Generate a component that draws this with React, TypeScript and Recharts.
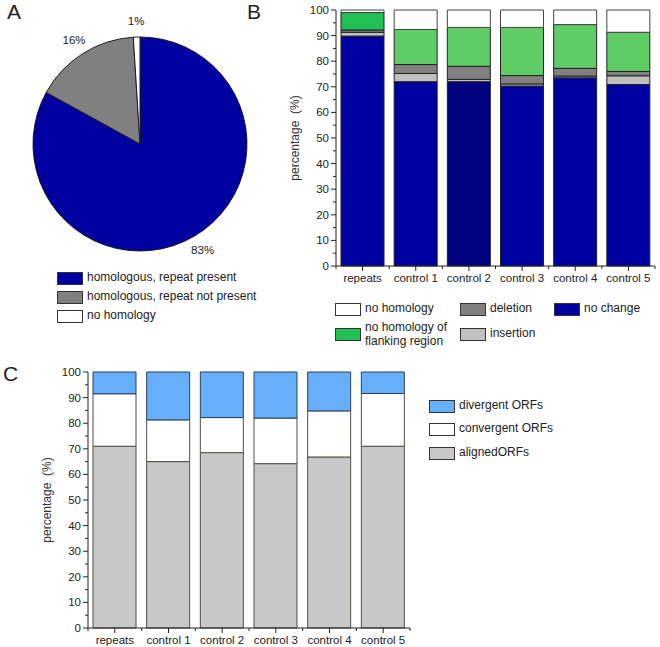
import React from "react";
import { PieChart, Pie, Cell, BarChart, Bar, XAxis, YAxis } from "recharts";

// panel A
const pieLabels = ["homologous, repeat present", "homologous, repeat not present", "no homology"];
const pieValues = [83, 16, 1];
const pieColors = ["#0000a0", "#808080", "#ffffff"];

// panel B
const categories = ["repeats", "control 1", "control 2", "control 3", "control 4", "control 5"];
const noChange = [89.8, 72.0, 72.0, 70.3, 73.5, 70.9];
const insertion = [1.5, 3.2, 0.9, 0.8, 0.7, 3.4];
const deletion = [0.9, 3.5, 5.1, 3.3, 3.0, 1.7];
const flanking = [6.8, 13.7, 15.2, 18.8, 17.1, 15.3];
const noHomology = [1.0, 7.6, 6.8, 6.8, 5.7, 8.7];
const noChangeColors = ["#0000a0", "#0000a0", "#000080", "#0000a0", "#0000a0", "#0000a0"];
const flankingColors = ["#20c055", "#5ecd66", "#5ecd66", "#5ecd66", "#5ecd66", "#5ecd66"];

// panel C
const aligned = [71.0, 65.0, 68.5, 64.2, 66.8, 71.0];
const convergent = [20.5, 16.3, 13.7, 17.8, 18.0, 20.6];
const divergent = [8.5, 18.7, 17.8, 18.0, 15.2, 8.4];

const yTicks = [0, 5, 10, 15, 20, 25, 30, 35, 40, 45, 50, 55, 60, 65, 70, 75, 80, 85, 90, 95, 100];

const FONT = "'Liberation Sans', Arial, sans-serif";
const INK = "#222";

const dataB = categories.map((name, i) => ({
    name,
    noChange: noChange[i],
    insertion: insertion[i],
    deletion: deletion[i],
    flanking: flanking[i],
    noHomology: noHomology[i],
}));

const dataC = categories.map((name, i) => ({
    name,
    aligned: aligned[i],
    convergent: convergent[i],
    divergent: divergent[i],
}));

const pieData = pieLabels.map((name, i) => ({ name, value: pieValues[i] }));

const YTick = (props: any) => {
    const { x, y, payload } = props;
    const major = payload.value % 10 === 0;
    return (
        <g>
            <line x1={x} x2={x - (major ? 5 : 3)} y1={y} y2={y} stroke={INK} />
            {major && (
                <text x={x - 7} y={y + 4} textAnchor="end" fontSize={11.5} fill={INK} fontFamily={FONT}>
                    {payload.value}
                </text>
            )}
        </g>
    );
};

const makeXTick = (band: number) => (props: any) => {
    const { x, y, payload, index } = props;
    return (
        <g>
            <line x1={x} x2={x} y1={y} y2={y + 5} stroke={INK} />
            <line x1={x - band / 2} x2={x - band / 2} y1={y} y2={y + 3} stroke={INK} />
            {index === categories.length - 1 && (
                <line x1={x + band / 2} x2={x + band / 2} y1={y} y2={y + 3} stroke={INK} />
            )}
            <text x={x} y={y + 15.5} textAnchor="middle" fontSize={11.5} fill={INK} fontFamily={FONT}>
                {payload.value}
            </text>
        </g>
    );
};

const makeYLabel = (dx: number) => (props: any) => {
    const { x, y, height } = props.viewBox;
    const lx = x + dx;
    const ly = y + height / 2;
    return (
        <text
            x={lx}
            y={ly}
            transform={`rotate(-90, ${lx}, ${ly})`}
            textAnchor="middle"
            dominantBaseline="central"
            fontSize={12}
            fill="#333"
            fontFamily={FONT}
        >
            {"percentage\u00a0 (%)"}
        </text>
    );
};

const RADIAN = Math.PI / 180;
const pieLabel = (props: any) => {
    const { cx, cy, midAngle, outerRadius, value } = props;
    const r = outerRadius + 16;
    const x = cx + r * Math.cos(-midAngle * RADIAN);
    const y = cy + r * Math.sin(-midAngle * RADIAN);
    return (
        <text x={x} y={y} textAnchor="middle" dominantBaseline="central" fontSize={11.5} fill={INK} fontFamily={FONT}>
            {`${value}%`}
        </text>
    );
};

const Swatch = ({ left, top, color, label, lines }: any) => (
    <div style={{ position: "absolute", left, top }}>
        <div
            style={{
                position: "absolute",
                left: 0,
                top: 0,
                width: 24,
                height: 11,
                background: color,
                border: "1px solid #333",
            }}
        />
        <div
            style={{
                position: "absolute",
                left: 30,
                top: lines === 2 ? -8 : -2,
                fontSize: 12,
                lineHeight: "14px",
                whiteSpace: "nowrap",
                color: INK,
                fontFamily: FONT,
            }}
        >
            {label}
        </div>
    </div>
);

const PanelLetter = ({ left, top, children }: any) => (
    <div style={{ position: "absolute", left, top, fontSize: 21, color: INK, fontFamily: FONT, lineHeight: "21px" }}>
        {children}
    </div>
);

export default function App() {
    const bandB = 319 / 6;
    const bandC = 322 / 6;
    return (
        <div
            style={{
                position: "absolute",
                left: 0,
                top: 0,
                width: 660,
                height: 647,
                background: "#fff",
                overflow: "hidden",
                fontFamily: FONT,
            }}
        >
            <PanelLetter left={7} top={1}>A</PanelLetter>
            <PanelLetter left={247} top={1}>B</PanelLetter>
            <PanelLetter left={3} top={363}>C</PanelLetter>

            {/* A: pie */}
            <div style={{ position: "absolute", left: 0, top: 0 }}>
                <PieChart width={270} height={262}>
                    <Pie
                        data={pieData}
                        dataKey="value"
                        cx={135}
                        cy={139}
                        outerRadius={107}
                        startAngle={90}
                        endAngle={-270}
                        stroke="#1a1a1a"
                        strokeWidth={1}
                        label={pieLabel}
                        labelLine={false}
                        isAnimationActive={false}
                    >
                        {pieData.map((d, i) => (
                            <Cell key={d.name} fill={pieColors[i]} />
                        ))}
                    </Pie>
                </PieChart>
            </div>
            <Swatch left={57} top={272} color={pieColors[0]} label={pieLabels[0]} />
            <Swatch left={57} top={291} color={pieColors[1]} label={pieLabels[1]} />
            <Swatch left={57} top={310} color={pieColors[2]} label={pieLabels[2]} />

            {/* B: stacked bars */}
            <div style={{ position: "absolute", left: 280, top: 0 }}>
                <BarChart
                    width={380}
                    height={290}
                    data={dataB}
                    margin={{ top: 10, right: 5, bottom: 0, left: 0 }}
                    barSize={43}
                >
                    <XAxis
                        dataKey="name"
                        height={24}
                        tickSize={0}
                        tickMargin={0}
                        tick={makeXTick(bandB)}
                        axisLine={{ stroke: INK }}
                        interval={0}
                    />
                    <YAxis
                        width={56}
                        domain={[0, 100]}
                        ticks={yTicks}
                        interval={0}
                        tickSize={0}
                        tickMargin={0}
                        tick={YTick}
                        axisLine={{ stroke: INK }}
                        label={{ content: makeYLabel(15) }}
                    />
                    <Bar dataKey="noChange" stackId="b" stroke="#222" strokeWidth={1} isAnimationActive={false}>
                        {dataB.map((d, i) => (
                            <Cell key={d.name} fill={noChangeColors[i]} />
                        ))}
                    </Bar>
                    <Bar dataKey="insertion" stackId="b" fill="#c0c0c0" stroke="#222" strokeWidth={1} isAnimationActive={false} />
                    <Bar dataKey="deletion" stackId="b" fill="#808080" stroke="#222" strokeWidth={1} isAnimationActive={false} />
                    <Bar dataKey="flanking" stackId="b" stroke="#222" strokeWidth={1} isAnimationActive={false}>
                        {dataB.map((d, i) => (
                            <Cell key={d.name} fill={flankingColors[i]} />
                        ))}
                    </Bar>
                    <Bar dataKey="noHomology" stackId="b" fill="#ffffff" stroke="#444" strokeWidth={1} isAnimationActive={false} />
                </BarChart>
            </div>
            <Swatch left={335} top={303} color="#ffffff" label="no homology" />
            <Swatch left={460} top={303} color="#808080" label="deletion" />
            <Swatch left={554} top={303} color="#0000a0" label="no change" />
            <Swatch
                left={335}
                top={328}
                color="#20c055"
                lines={2}
                label={
                    <>
                        no homology of
                        <br />
                        flanking region
                    </>
                }
            />
            <Swatch left={460} top={328} color="#c0c0c0" label="insertion" />

            {/* C: stacked bars */}
            <div style={{ position: "absolute", left: 0, top: 340 }}>
                <BarChart
                    width={420}
                    height={307}
                    data={dataC}
                    margin={{ top: 32, right: 10, bottom: 0, left: 0 }}
                    barSize={43}
                >
                    <XAxis
                        dataKey="name"
                        height={19}
                        tickSize={0}
                        tickMargin={0}
                        tick={makeXTick(bandC)}
                        axisLine={{ stroke: INK }}
                        interval={0}
                    />
                    <YAxis
                        width={88}
                        domain={[0, 100]}
                        ticks={yTicks}
                        interval={0}
                        tickSize={0}
                        tickMargin={0}
                        tick={YTick}
                        axisLine={{ stroke: INK }}
                        label={{ content: makeYLabel(47) }}
                    />
                    <Bar dataKey="aligned" stackId="c" fill="#c8c8c8" stroke="#4f4f44" strokeWidth={1} isAnimationActive={false} />
                    <Bar dataKey="convergent" stackId="c" fill="#ffffff" stroke="#4f4f44" strokeWidth={1} isAnimationActive={false} />
                    <Bar dataKey="divergent" stackId="c" fill="#66b0fb" stroke="#2d3e55" strokeWidth={1} isAnimationActive={false} />
                </BarChart>
            </div>
            <Swatch left={429} top={400} color="#66b0fb" label="divergent ORFs" />
            <Swatch left={429} top={423} color="#ffffff" label="convergent ORFs" />
            <Swatch left={429} top={447} color="#c8c8c8" label="alignedORFs" />
        </div>
    );
}
